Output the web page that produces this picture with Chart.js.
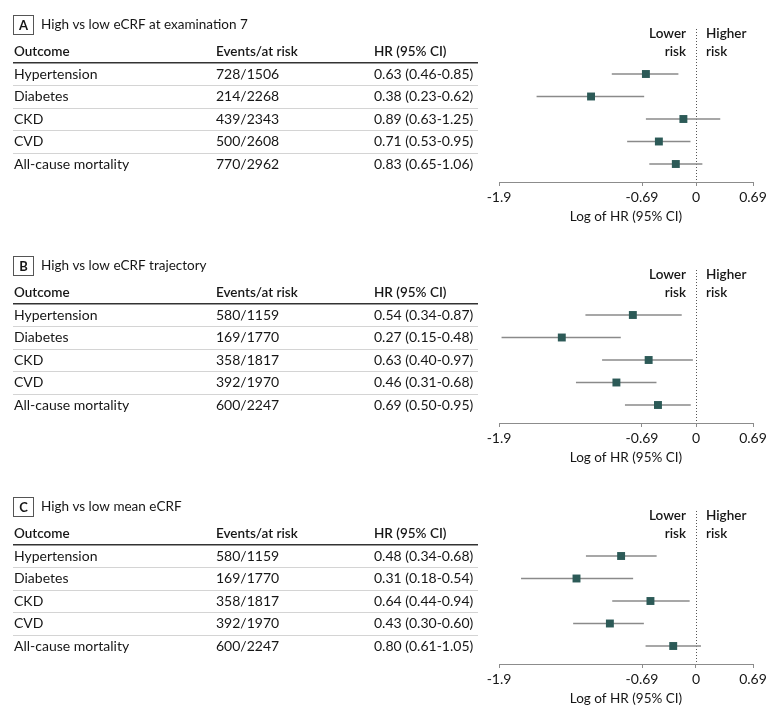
<!DOCTYPE html>
<html lang="en">
<head>
<meta charset="UTF-8">
<title>eCRF and outcomes - forest plot</title>
<style>
    html, body {
        margin: 0;
        padding: 0;
        background: #fff;
        overflow: hidden;
    }
    .page {
        position: relative;
        width: 780px;
        height: 717px;
        overflow: hidden;
    }
    .panel {
        position: absolute;
        left: 0;
        width: 780px;
        height: 240px;
    }
</style>
</head>
<body>
<div class="page">
    <div class="panel" style="top:0px"><canvas id="panelA" width="780" height="240"></canvas></div>
    <div class="panel" style="top:241px"><canvas id="panelB" width="780" height="240"></canvas></div>
    <div class="panel" style="top:482px"><canvas id="panelC" width="780" height="240"></canvas></div>
</div>

<script src="https://cdn.jsdelivr.net/npm/chart.js"></script>
<script>
    // outcomes are the same in every panel
    const outcomes = ['Hypertension', 'Diabetes', 'CKD', 'CVD', 'All-cause mortality'];

    // panel A - high vs low eCRF at examination 7
    const eventsA = ['728/1506', '214/2268', '439/2343', '500/2608', '770/2962'];
    const hrA = [0.63, 0.38, 0.89, 0.71, 0.83];
    const loA = [0.46, 0.23, 0.63, 0.53, 0.65];
    const hiA = [0.85, 0.62, 1.25, 0.95, 1.06];

    // panel B - high vs low eCRF trajectory
    const eventsB = ['580/1159', '169/1770', '358/1817', '392/1970', '600/2247'];
    const hrB = [0.54, 0.27, 0.63, 0.46, 0.69];
    const loB = [0.34, 0.15, 0.40, 0.31, 0.50];
    const hiB = [0.87, 0.48, 0.97, 0.68, 0.95];

    // panel C - high vs low mean eCRF
    const eventsC = ['580/1159', '169/1770', '358/1817', '392/1970', '600/2247'];
    const hrC = [0.48, 0.31, 0.64, 0.43, 0.80];
    const loC = [0.34, 0.18, 0.44, 0.30, 0.61];
    const hiC = [0.68, 0.54, 0.94, 0.60, 1.05];

    // axis labels as printed, and where they sit on the log HR axis in each panel
    const tickLabels = ['-1.9', '-0.69', '0', '0.69'];
    const ticksA = [-1.816, -0.498, 0, 0.525];
    const ticksB = [-1.922, -0.527, 0, 0.556];
    const ticksC = [-1.931, -0.529, 0, 0.559];

    const FONT = 'Lato, "Liberation Sans", Arial, sans-serif';
    const TEXT = '#161616';
    const SQUARE = '#2c5a57';
    const WHISKER = '#8a8a8a';

    function fmt(v) {
        return v.toFixed(2);
    }

    // draws the table on the left, panel title and the lower/higher risk labels
    function tablePlugin(letter, title, events, hr, lo, hi) {
        return {
            id: 'table' + letter,
            beforeDatasetsDraw(chart) {
                const ctx = chart.ctx;
                const zero = chart.scales.x.getPixelForValue(0);

                // dotted no-effect line
                ctx.save();
                ctx.strokeStyle = '#555';
                ctx.lineWidth = 1;
                ctx.setLineDash([1, 2]);
                ctx.beginPath();
                ctx.moveTo(Math.round(zero) + 0.5, chart.chartArea.top);
                ctx.lineTo(Math.round(zero) + 0.5, chart.chartArea.bottom);
                ctx.stroke();
                ctx.restore();
            },
            afterDraw(chart) {
                const ctx = chart.ctx;
                const x = chart.scales.x;
                const y = chart.scales.y;
                const zero = x.getPixelForValue(0);
                const headY = y.getPixelForValue(-1);
                const cols = [14, 216, 374];

                ctx.save();
                ctx.textBaseline = 'middle';

                // letter box + title
                ctx.strokeStyle = '#555';
                ctx.lineWidth = 1;
                ctx.strokeRect(13.5, 15.5, 20, 19);
                ctx.fillStyle = TEXT;
                ctx.textAlign = 'center';
                ctx.font = 'bold 13px ' + FONT;
                ctx.fillText(letter, 23.5, 25.5);
                ctx.textAlign = 'left';
                ctx.font = '13.5px ' + FONT;
                ctx.fillText(title, 41, 25);

                // header
                ctx.font = '600 13.5px ' + FONT;
                ctx.fillText('Outcome', cols[0], headY);
                ctx.fillText('Events/at risk', cols[1], headY);
                ctx.fillText('HR (95% CI)', cols[2], headY);

                ctx.strokeStyle = '#333';
                ctx.lineWidth = 1.6;
                ctx.beginPath();
                ctx.moveTo(13, y.getPixelForValue(-0.5));
                ctx.lineTo(478, y.getPixelForValue(-0.5));
                ctx.stroke();

                ctx.strokeStyle = '#d4d4d4';
                ctx.lineWidth = 1;
                for (let i = 0; i < outcomes.length - 1; i++) {
                    const ly = Math.round(y.getPixelForValue(i + 0.5)) + 0.5;
                    ctx.beginPath();
                    ctx.moveTo(13, ly);
                    ctx.lineTo(478, ly);
                    ctx.stroke();
                }

                // rows
                ctx.font = '14px ' + FONT;
                ctx.fillStyle = TEXT;
                outcomes.forEach((name, i) => {
                    const ry = y.getPixelForValue(i);
                    ctx.fillText(name, cols[0], ry);
                    ctx.fillText(events[i], cols[1], ry);
                    ctx.fillText(fmt(hr[i]) + ' (' + fmt(lo[i]) + '-' + fmt(hi[i]) + ')', cols[2], ry);
                });

                // lower / higher risk
                ctx.font = '600 13.5px ' + FONT;
                ctx.textAlign = 'right';
                ctx.fillText('Lower', zero - 10, headY - 18);
                ctx.fillText('risk', zero - 10, headY);
                ctx.textAlign = 'left';
                ctx.fillText('Higher', zero + 10, headY - 18);
                ctx.fillText('risk', zero + 10, headY);
                ctx.restore();
            }
        };
    }

    function makePanel(id, letter, title, events, hr, lo, hi, ticks) {
        const squares = hr.map((v, i) => ({ x: Math.log(v), y: i }));
        const whiskers = lo.map((v, i) => ({
            data: [{ x: Math.log(v), y: i }, { x: Math.log(hi[i]), y: i }],
            showLine: true,
            borderColor: WHISKER,
            borderWidth: 1.5,
            pointRadius: 0,
            order: 1
        }));

        new Chart(document.getElementById(id), {
            type: 'scatter',
            data: {
                datasets: [{
                    data: squares,
                    pointStyle: 'rect',
                    pointRadius: 5.6,
                    pointBorderWidth: 0,
                    backgroundColor: SQUARE,
                    borderColor: SQUARE,
                    order: 0
                }, ...whiskers]
            },
            options: {
                responsive: false,
                animation: false,
                clip: false,
                layout: { padding: { left: 499, right: 27, top: 29, bottom: 0 } },
                plugins: {
                    legend: { display: false },
                    tooltip: { enabled: false }
                },
                scales: {
                    x: {
                        type: 'linear',
                        min: ticks[0],
                        max: ticks[ticks.length - 1],
                        afterBuildTicks: s => { s.ticks = ticks.map(v => ({ value: v })); },
                        afterFit: s => { s.height = 58; },
                        ticks: {
                            callback: (v, i) => tickLabels[i],
                            autoSkip: false,
                            maxRotation: 0,
                            padding: 3,
                            color: TEXT,
                            font: { family: FONT, size: 14 }
                        },
                        grid: { drawOnChartArea: false, tickLength: 4, color: '#8c8c8c' },
                        border: { color: '#8c8c8c', width: 1 },
                        title: {
                            display: true,
                            text: 'Log of HR (95% CI)',
                            color: TEXT,
                            font: { family: FONT, size: 13.5 },
                            padding: { top: 0, bottom: 15 }
                        }
                    },
                    y: { type: 'linear', reverse: true, min: -2, max: 4.8, display: false }
                }
            },
            plugins: [tablePlugin(letter, title, events, hr, lo, hi)]
        });
    }

    makePanel('panelA', 'A', 'High vs low eCRF at examination 7', eventsA, hrA, loA, hiA, ticksA);
    makePanel('panelB', 'B', 'High vs low eCRF trajectory', eventsB, hrB, loB, hiB, ticksB);
    makePanel('panelC', 'C', 'High vs low mean eCRF', eventsC, hrC, loC, hiC, ticksC);
</script>
</body>
</html>
